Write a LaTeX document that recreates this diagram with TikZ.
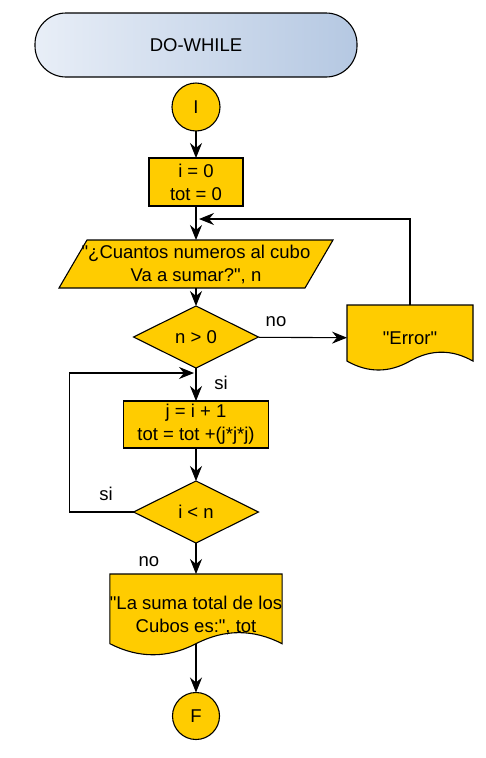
\documentclass[tikz,border=0pt]{standalone}
\usepackage{fontspec}
\newfontfamily\flowfont{Liberation Sans}
\usetikzlibrary{arrows.meta,calc}
\pgfdeclarelayer{background}
\pgfsetlayers{background,main}
\definecolor{flowyellow}{RGB}{255,204,0}
\definecolor{headleft}{RGB}{232,238,247}
\definecolor{headright}{RGB}{181,200,226}
\newcommand\docshape[1]{%
 \filldraw[shapeline] let \p1=(#1.south west), \p2=(#1.north east), \n1={\x2-\x1}, \n2={\y2-\y1} in
  (\x1,\y2) -- (\x2,\y2) -- (\x2,{\y1+0.15*\n2})
  .. controls ({\x1+0.8333*\n1},{\y1+0.33*\n2}) and ({\x1+0.6667*\n1},{\y1+0.33*\n2}) .. ({\x1+0.5*\n1},{\y1+0.15*\n2})
  .. controls ({\x1+0.3333*\n1},{\y1-0.03*\n2}) and ({\x1+0.1667*\n1},{\y1-0.03*\n2}) .. (\x1,{\y1+0.15*\n2}) -- cycle;}
\begin{document}
\begin{tikzpicture}[x=1pt,y=-1pt,
  base/.style={font=\flowfont\fontsize{18.5}{23}\selectfont, align=center, inner sep=0pt, outer sep=0pt, text=black},
  box/.style={base, rectangle, draw=black, line width=1.1pt, fill=flowyellow},
  ghost/.style={base, rectangle},
  term/.style={base, circle, draw=black, line width=1.1pt, fill=flowyellow, minimum size=48pt},
  header/.style={base, rectangle, draw=black, line width=1.1pt, rounded corners=31pt, left color=headleft, right color=headright},
  shapeline/.style={draw=black, line width=1.1pt, fill=flowyellow},
  lab/.style={base},
  conn/.style={draw=black, line width=1.1pt, -{Stealth[length=15pt,width=12pt,inset=5pt]}}
]
\useasboundingbox (0,0) rectangle (486,758);

\node[header, minimum width=322pt, minimum height=64pt] (title) at (196,45) {DO-WHILE};
\node[term] (start) at (196,107) {I};
\node[box, minimum width=94pt, minimum height=48pt] (init) at (196,182) {i = 0\\tot = 0};
\node[ghost, minimum width=274pt, minimum height=48pt] (read) at (196,264) {"¿Cuantos numeros al cubo\\Va a sumar?", n};
\node[ghost, minimum width=125pt, minimum height=62pt] (cond1) at (196,337) {n > 0};
\node[ghost, minimum width=126pt, minimum height=66pt] (err) at (410,338) {"Error"};
\node[box, minimum width=145pt, minimum height=47pt] (body) at (196,424.5) {j = i + 1\\tot = tot +(j*j*j)};
\node[ghost, minimum width=125pt, minimum height=62pt] (cond2) at (196,512) {i < n};
\node[ghost, minimum width=170pt, minimum height=82pt] (out) at (196,615) {"La suma total de los\\Cubos es:", tot};
\node[term, minimum size=47pt] (fin) at (196,716) {F};

\node[lab] (lno1) at (276,322) {no};
\node[lab] (lsi1) at (221,383) {si};
\node[lab] (lsi2) at (106,494) {si};
\node[lab] (lno2) at (149,562) {no};

\begin{pgfonlayer}{background}
\filldraw[shapeline] ([xshift=28pt]read.north west) -- (read.north east) -- ([xshift=-28pt]read.south east) -- (read.south west) -- cycle;
\filldraw[shapeline] (cond1.north) -- (cond1.east) -- (cond1.south) -- (cond1.west) -- cycle;
\filldraw[shapeline] (cond2.north) -- (cond2.east) -- (cond2.south) -- (cond2.west) -- cycle;
\docshape{err}
\docshape{out}
\end{pgfonlayer}

\coordinate (j1) at (199,219);
\coordinate (j2) at (194,373);

\draw[conn] (start) -- (init);
\draw[conn] (init) -- (read);
\draw[conn] (read) -- (cond1);
\draw[conn] (cond1) -- (err);
\draw[conn] (cond1) -- (body);
\draw[conn] (body) -- (cond2);
\draw[conn] (cond2) -- (out);
\draw[conn] ([yshift=12.3pt]out.south) -- (fin);
\draw[conn] (err.north) |- (j1);
\draw[conn] (cond2.west) -- ++(-64,0) |- (j2);
\end{tikzpicture}
\end{document}
